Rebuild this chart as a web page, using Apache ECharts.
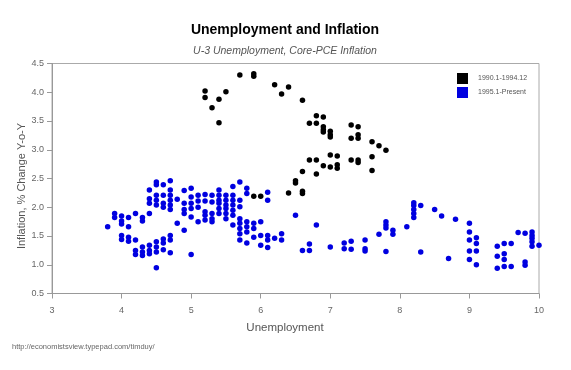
<!DOCTYPE html>
<html><head><meta charset="utf-8">
<script src="https://cdn.jsdelivr.net/npm/echarts@6/dist/echarts.min.js"></script>
<style>html,body{margin:0;padding:0;background:#fff}#c{width:571px;height:370px}</style>
</head><body><div id="c"></div>
<script>
const titleText = 'Unemployment and Inflation';
const subtitleText = 'U-3 Unemployment, Core-PCE Inflation';
const xAxisTitle = 'Unemployment';
const yAxisTitle = 'Inflation, % Change Y-o-Y';
const sourceText = 'http://economistsview.typepad.com/timduy/';
const seriesNames = ['1990.1-1994.12', '1995.1-Present'];
const xTickValues = [3, 4, 5, 6, 7, 8, 9, 10];
const yTickValues = [0.5, 1.0, 1.5, 2.0, 2.5, 3.0, 3.5, 4.0, 4.5];

// 1990.1-1994.12 : unemployment (%) and core PCE inflation (%)
const unemp1990 = [5.2,5.2,5.3,5.4,5.4,5.5,5.7,5.9,5.9,6.2,6.3,6.4,6.6,6.8,6.9,6.7,6.8,6.9,6.9,6.9,
  7.0,7.0,7.0,7.3,7.4,7.3,7.4,7.4,7.6,7.7,7.8,7.6,7.6,7.3,7.4,7.4,7.0,7.1,6.7,6.8,
  6.9,7.0,7.1,7.1,6.6,6.8,6.5,6.5,6.6,6.6,6.4,5.9,6.0];
const infl1990 = [4.02,3.91,3.73,3.88,3.47,4.01,4.30,4.32,4.28,4.13,3.97,4.09,3.86,3.59,3.57,3.46,3.46,3.40,3.35,3.31,
  3.32,3.26,3.22,3.43,3.40,3.20,3.26,3.20,3.14,3.07,2.99,2.88,2.64,2.82,2.82,2.78,2.91,2.89,2.82,2.82,
  2.72,2.70,2.74,2.68,2.62,2.58,2.46,2.42,2.28,2.24,2.25,2.19,2.19];

// 1995.1-Present
const unemp1995 = [3.8,
  3.9,3.9,
  4.0,4.0,4.0,4.0,4.0,
  4.1,4.1,4.1,4.1,
  4.2,4.2,4.2,4.2,
  4.3,4.3,4.3,4.3,4.3,
  4.4,4.4,4.4,4.4,4.4,4.4,4.4,
  4.5,4.5,4.5,4.5,4.5,4.5,4.5,4.5,4.5,
  4.6,4.6,4.6,4.6,4.6,4.6,4.6,
  4.7,4.7,4.7,4.7,4.7,4.7,4.7,4.7,4.7,
  4.8,4.8,
  4.9,4.9,4.9,4.9,4.9,
  5.0,5.0,5.0,5.0,5.0,5.0,
  5.1,5.1,5.1,5.1,
  5.2,5.2,5.2,5.2,5.2,
  5.3,5.3,5.3,5.3,5.3,
  5.4,5.4,5.4,5.4,5.4,5.4,
  5.5,5.5,5.5,5.5,5.5,5.5,
  5.6,5.6,5.6,5.6,5.6,5.6,5.6,
  5.7,5.7,5.7,5.7,5.7,5.7,5.7,5.7,
  5.8,5.8,5.8,5.8,5.8,5.8,
  5.9,5.9,5.9,
  6.0,6.0,6.0,
  6.1,6.1,6.1,6.1,6.1,
  6.2,
  6.3,6.3,
  6.5,
  6.6,
  6.7,6.7,
  6.8,
  7.0,
  7.2,7.2,
  7.3,7.3,
  7.5,7.5,7.5,
  7.7,
  7.8,7.8,7.8,7.8,
  7.9,7.9,
  8.1,
  8.2,8.2,8.2,8.2,8.2,
  8.3,8.3,
  8.5,
  8.6,
  8.7,
  8.8,
  9.0,9.0,9.0,9.0,9.0,
  9.1,9.1,9.1,9.1,
  9.4,9.4,9.4,
  9.5,9.5,9.5,9.5,
  9.6,9.6,
  9.7,
  9.8,9.8,9.8,
  9.9,9.9,9.9,9.9,9.9,
  10.0];
const infl1995 = [1.66,
  1.89,1.82,
  1.85,1.76,1.71,1.51,1.44,
  1.82,1.66,1.48,1.41,
  1.89,1.43,1.25,1.18,
  1.82,1.76,1.31,1.22,1.16,
  1.89,2.30,2.15,2.07,1.34,1.25,1.19,
  2.44,2.39,2.21,2.12,2.04,1.40,1.31,1.22,0.95,
  2.39,2.21,2.07,2.00,1.45,1.38,1.26,
  2.46,2.30,2.21,2.12,2.04,1.96,1.51,1.43,1.21,
  2.14,1.72,
  2.29,2.07,1.96,1.89,1.60,
  2.33,2.18,2.07,1.98,1.83,1.18,
  2.21,2.11,2.00,1.75,
  2.22,2.11,1.92,1.86,1.78,
  2.21,2.09,1.89,1.80,1.75,
  2.30,2.21,2.12,2.07,1.98,1.89,
  2.21,2.12,2.04,1.98,1.89,1.80,
  2.36,2.21,2.12,2.04,1.95,1.86,1.69,
  2.44,2.12,2.01,1.80,1.72,1.63,1.54,1.43,
  2.33,2.24,1.75,1.66,1.57,1.38,
  1.72,1.63,1.48,
  1.75,1.51,1.34,
  2.26,2.12,1.51,1.43,1.30,
  1.46,
  1.54,1.43,
  1.86,
  1.25,
  1.36,1.25,
  1.69,
  1.31,
  1.38,1.28,
  1.41,1.27,
  1.43,1.28,1.24,
  1.53,
  1.75,1.69,1.64,1.23,
  1.60,1.53,
  1.66,
  2.08,2.03,1.96,1.89,1.82,
  2.03,1.22,
  1.96,
  1.85,
  1.11,
  1.79,
  1.72,1.57,1.43,1.24,1.09,
  1.47,1.37,1.24,1.00,
  1.32,1.15,0.94,
  1.37,1.19,1.09,0.97,
  1.37,0.97,
  1.56,
  1.55,1.05,0.99,
  1.57,1.51,1.46,1.40,1.32,
  1.34];

const pairs = (xs, ys) => xs.map((x, i) => [x, ys[i]]);
const FONT = '"Liberation Sans", Arial, Helvetica, sans-serif';
const BLACK = '#000000';
const BLUE = '#0000e0';

const chart = echarts.init(document.getElementById('c'), null, {renderer: 'canvas'});
chart.setOption({
  animation: false,
  backgroundColor: '#fff',
  textStyle: {fontFamily: FONT},
  grid: {left: 52, right: 32, top: 63.5, bottom: 76.5, show: true, borderColor: '#aaa', borderWidth: 1, backgroundColor: 'transparent'},
  legend: {
    data: seriesNames.map(n => ({name: n, icon: 'rect'})),
    orient: 'vertical', left: 452, top: 68, itemWidth: 11, itemHeight: 11, itemGap: 3,
    textStyle: {fontSize: 7, color: '#555', fontFamily: FONT, padding: [0, 0, 0, 5]}
  },
  xAxis: {
    type: 'value', min: xTickValues[0], max: xTickValues[xTickValues.length - 1], interval: 1,
    axisLine: {show: true, onZero: false, lineStyle: {color: '#999', width: 1}},
    axisTick: {show: true, length: 5, lineStyle: {color: '#999'}},
    splitLine: {show: false},
    axisLabel: {fontSize: 9, color: '#666', margin: 13, fontFamily: FONT}
  },
  yAxis: {
    type: 'value', min: yTickValues[0], max: yTickValues[yTickValues.length - 1], interval: 0.5,
    axisLine: {show: true, onZero: false, lineStyle: {color: '#999', width: 1}},
    axisTick: {show: true, length: 5, lineStyle: {color: '#999'}},
    splitLine: {show: false},
    axisLabel: {fontSize: 9, color: '#666', margin: 8, fontFamily: FONT, formatter: v => v.toFixed(1)}
  },
  series: [
    {name: seriesNames[0], type: 'scatter', data: pairs(unemp1990, infl1990), symbol: 'circle', symbolSize: 5.5,
     itemStyle: {color: BLACK, opacity: 1}, z: 3},
    {name: seriesNames[1], type: 'scatter', data: pairs(unemp1995, infl1995), symbol: 'circle', symbolSize: 5.5,
     itemStyle: {color: BLUE, opacity: 1}, z: 2}
  ],
  graphic: [
    {type: 'text', x: 285, y: 30, style: {text: titleText, textAlign: 'center', textVerticalAlign: 'middle',
      font: 'bold 14px ' + FONT, fill: '#000'}},
    {type: 'text', x: 285, y: 51, style: {text: subtitleText, textAlign: 'center', textVerticalAlign: 'middle',
      font: 'italic 10.5px ' + FONT, fill: '#555'}},
    {type: 'text', x: 285, y: 328, style: {text: xAxisTitle, textAlign: 'center', textVerticalAlign: 'middle',
      font: '11.5px ' + FONT, fill: '#555'}},
    {type: 'text', x: 22, y: 186, rotation: Math.PI / 2, style: {text: yAxisTitle, textAlign: 'center', textVerticalAlign: 'middle',
      font: '11px ' + FONT, fill: '#555'}},
    {type: 'text', x: 12, y: 347, style: {text: sourceText, textAlign: 'left', textVerticalAlign: 'middle',
      font: '7.5px ' + FONT, fill: '#666'}}
  ]
});
</script>
</body></html>
